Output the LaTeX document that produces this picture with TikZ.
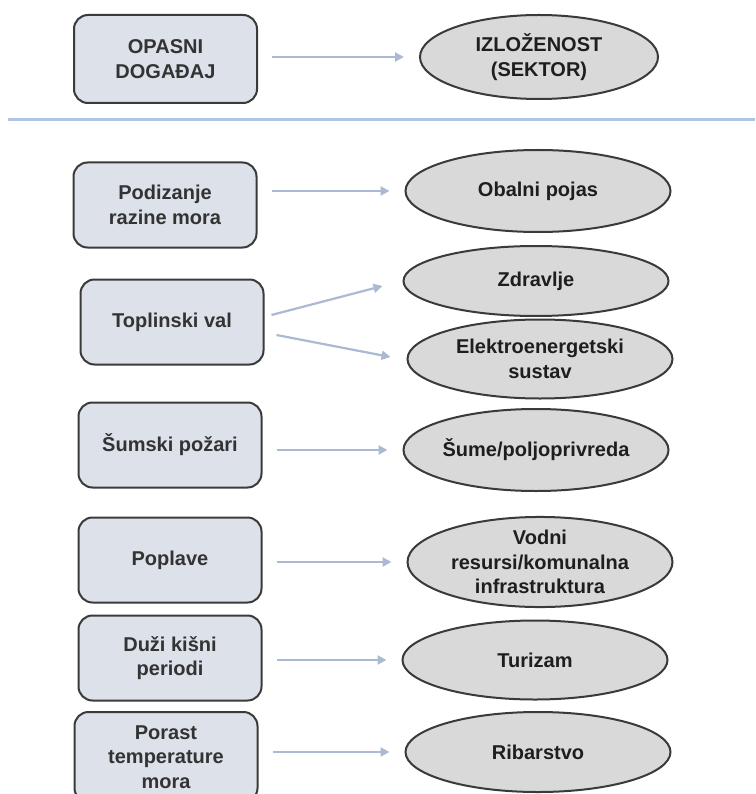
\documentclass[tikz,border=0pt]{standalone}
\usepackage{fontspec}
\setmainfont{Liberation Sans}
\usetikzlibrary{shapes.geometric,arrows.meta,calc}
\definecolor{boxfill}{HTML}{DCE1EA}
\definecolor{ellfill}{HTML}{D9D9D9}
\definecolor{edgec}{HTML}{3A3A3A}
\definecolor{arrowc}{HTML}{A9BAD2}
\definecolor{sepc}{HTML}{B0C4E4}
\definecolor{boxtext}{HTML}{333333}
\definecolor{elltext}{HTML}{1E1E1E}
\begin{document}
\begin{tikzpicture}[x=1pt,y=-1pt,
  hazard/.style={draw=edgec, line width=2pt, fill=boxfill, rounded corners=14pt,
    minimum width=183pt, minimum height=85pt, inner sep=0pt, align=center,
    text=boxtext, font=\bfseries\fontsize{20}{24.5}\selectfont},
  sector/.style={draw=edgec, line width=2pt, fill=ellfill, ellipse,
    minimum width=265pt, minimum height=82pt, inner sep=0pt, align=center,
    text=elltext, font=\bfseries\fontsize{20}{24.5}\selectfont},
  link/.style={draw=arrowc, line width=2.2pt, -{Triangle[length=9pt,width=9pt]},
    shorten <=14pt, shorten >=15pt}]
\clip (0,0) rectangle (755,794);
\fill[white] (0,0) rectangle (755,794);
% header row
\node[hazard, minimum height=88pt] (h0) at (165.5,59) {OPASNI\\DOGAĐAJ};
\node[sector, minimum width=238pt, minimum height=84pt] (s0) at (539,57) {IZLOŽENOST\\(SEKTOR)};
\draw[link] (s0.west -| h0.east) -- (s0.west);
% separator
\coordinate (sepL) at (8,120);
\coordinate (sepR) at (755,120);
\draw[sepc, line width=3pt] (sepL) -- (sepR);
% hazards
\node[hazard] (h1) at (165,205) {Podizanje\\razine mora};
\node[hazard] (h2) at (172,322) {Toplinski val};
\node[hazard] (h3) at (170,445) {Šumski požari};
\node[hazard] (h4) at (170,560) {Poplave};
\node[hazard] (h5) at (170,658) {Duži kišni\\periodi};
\node[hazard, minimum height=90pt] (h6) at (166,757) {Porast\\temperature\\mora};
% sectors
\node[sector] (s1) at (538,191) {Obalni pojas};
\node[sector, minimum height=70pt] (s2) at (536,281) {Zdravlje};
\node[sector, minimum height=79pt] (s3) at (540,359) {Elektroenergetski\\sustav};
\node[sector] (s4) at (536,450) {Šume/poljoprivreda};
\node[sector, minimum height=80pt] (s5) at (540,562) {Vodni\\resursi/komunalna\\infrastruktura};
\node[sector, minimum height=79pt] (s6) at (535,660) {Turizam};
\node[sector, minimum height=80pt] (s7) at (538,752) {Ribarstvo};
% links
\draw[link] (s1.west -| h1.east) -- (s1.west);
\draw[link, shorten <=0pt, shorten >=0pt] ($(h2.east)+(7,-7)$) -- ($(s2.west)+(-20,5)$);
\draw[link, shorten <=0pt, shorten >=0pt] ($(h2.east)+(12,13)$) -- ($(s3.west)+(-16,-2)$);
\draw[link] (s4.west -| h3.east) -- (s4.west);
\draw[link] (s5.west -| h4.east) -- (s5.west);
\draw[link] (s6.west -| h5.east) -- (s6.west);
\draw[link] (s7.west -| h6.east) -- (s7.west);
\end{tikzpicture}
\end{document}
